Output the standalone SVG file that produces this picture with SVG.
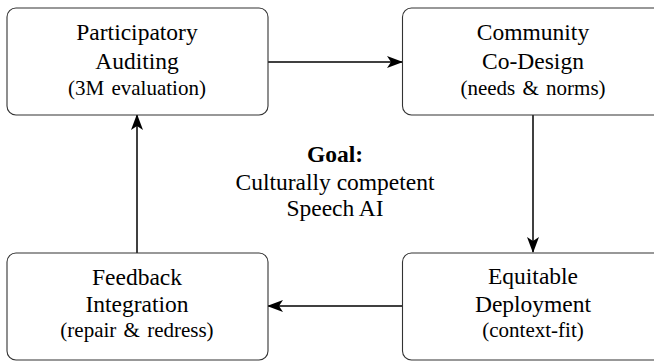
<svg xmlns="http://www.w3.org/2000/svg" width="654" height="363" viewBox="0 0 654 363">
<defs>
<style>
.box{fill:#fff;stroke:#333;stroke-width:1.1}
text{font-family:'Liberation Serif','Times New Roman',Times,serif;fill:#000;text-anchor:middle}
.t{font-size:23.5px}
.s{font-size:21px;word-spacing:2px}
.b{font-weight:bold}
.c{fill:none;stroke:#000;stroke-width:1.5}
</style>
<marker id="ah" markerUnits="userSpaceOnUse" markerWidth="16" markerHeight="14" refX="15" refY="7" orient="auto" viewBox="0 0 16 14">
<path d="M0,1 L16,7 L0,13 L4,7 z" fill="#000"/>
</marker>
</defs>
<rect width="654" height="363" fill="#fff"/>
<g id="connectors">
<line class="c" x1="268" y1="62" x2="402" y2="62" marker-end="url(#ah)"/>
<line class="c" x1="533" y1="115" x2="533" y2="252" marker-end="url(#ah)"/>
<line class="c" x1="402" y1="306" x2="268" y2="306" marker-end="url(#ah)"/>
<line class="c" x1="137" y1="253" x2="137" y2="115" marker-end="url(#ah)"/>
</g>
<g id="auditing">
<rect class="box" x="7" y="8" width="261" height="107" rx="9"/>
<text class="t" x="137" y="40">Participatory</text>
<text class="t" x="137" y="69">Auditing</text>
<text class="s" x="137" y="95">(3M evaluation)</text>
</g>
<g id="codesign">
<rect class="box" x="402.5" y="8" width="262" height="107" rx="9"/>
<text class="t" x="533" y="40">Community</text>
<text class="t" x="533" y="69">Co-Design</text>
<text class="s" x="533" y="95">(needs &amp; norms)</text>
</g>
<g id="deployment">
<rect class="box" x="402.5" y="253" width="262" height="107" rx="9"/>
<text class="t" x="533" y="284">Equitable</text>
<text class="t" x="533" y="312">Deployment</text>
<text class="s" x="533" y="337">(context-fit)</text>
</g>
<g id="feedback">
<rect class="box" x="7" y="253" width="261" height="107" rx="9"/>
<text class="t" x="137" y="285">Feedback</text>
<text class="t" x="137" y="312">Integration</text>
<text class="s" x="137" y="337">(repair &amp; redress)</text>
</g>
<g id="goal">
<text class="t b" x="335" y="162">Goal:</text>
<text class="t" x="335" y="190">Culturally competent</text>
<text class="t" x="335" y="216">Speech AI</text>
</g>
</svg>
